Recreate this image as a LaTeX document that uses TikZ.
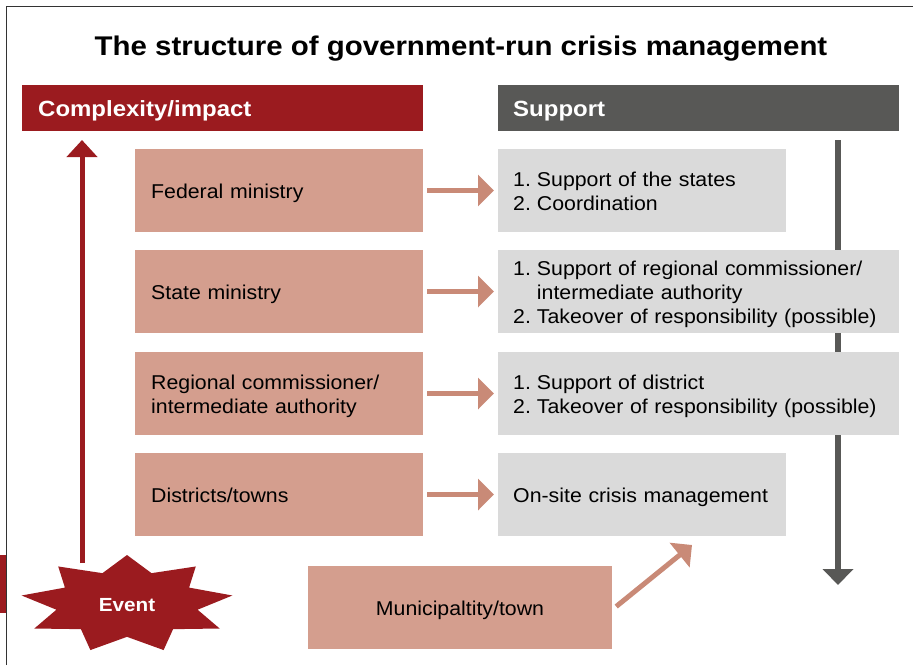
\documentclass[tikz,border=0pt]{standalone}
\usepackage{fontspec}
\setmainfont[FakeStretch=1.065]{Liberation Sans}
\newfontfamily\hfont[FakeStretch=1.09]{Liberation Sans}
\usetikzlibrary{arrows.meta}
\definecolor{cred}{HTML}{9B1B1F}
\definecolor{cpink}{HTML}{D49E8E}
\definecolor{cpinkarr}{HTML}{C98A77}
\definecolor{cgreyhead}{HTML}{585856}
\definecolor{cgreybox}{HTML}{DADADA}
\definecolor{cframe}{HTML}{333333}
\newcommand{\bodyfnt}{\fontsize{20}{24}\selectfont}
\newcommand{\itm}[1]{#1.\kern6pt}
\begin{document}
\begin{tikzpicture}[x=1pt,y=-1pt,
  boxtext/.style={text height=20.4pt, text depth=4pt},
  twoline/.style={text depth=28pt},
  threeline/.style={text depth=52pt},
  pinkbox/.style={fill=cpink, minimum height=83pt, text width=256pt, inner xsep=16pt, inner ysep=0pt, align=left, font=\bodyfnt, anchor=west, boxtext},
  greybox/.style={fill=cgreybox, minimum height=83pt, inner xsep=15pt, inner ysep=0pt, align=left, font=\bodyfnt, anchor=west, boxtext},
  header/.style={minimum height=46pt, inner xsep=16pt, inner ysep=0pt, align=left, font=\hfont\fontsize{22}{24}\selectfont\bfseries, text=white, anchor=west, text height=22pt, text depth=4.8pt},
  pinkarrow/.style={draw=cpinkarr, line width=5pt, -{Triangle[width=31pt,length=16pt]}},
]
\useasboundingbox (0,0) rectangle (913,665);
% frame
\fill[cred] (0,555) rectangle (6,613);
\draw[cframe, line width=1pt] (6.5,665) -- (6.5,6.5) -- (913,6.5);
% title
\node[font=\hfont\fontsize{27}{30}\selectfont\bfseries] (title) at (461,49) {The structure of government-run crisis management};
% headers
\node[header, fill=cred, text width=369pt] (hleft) at (22,108) {Complexity/impact};
\node[header, fill=cgreyhead, text width=371pt, inner xsep=15pt] (hright) at (498,108) {Support};
% grey down arrow (behind boxes)
\coordinate (gtop) at (838,140);
\coordinate (gbot) at (838,585);
\draw[cgreyhead, line width=5.5pt, -{Triangle[width=30pt,length=16pt]}] (gtop) -- (gbot);
% pink boxes
\node[pinkbox] (fed) at (135,190.5) {Federal ministry};
\node[pinkbox] (sta) at (135,291.5) {State ministry};
\node[pinkbox, twoline] (reg) at (135,393.5) {Regional commissioner/\\intermediate authority};
\node[pinkbox] (dis) at (135,494.5) {Districts/towns};
% grey boxes
\node[greybox, twoline, text width=258pt] (fedS) at (498,190.5) {\itm{1}Support of the states\\\itm{2}Coordination};
\node[greybox, threeline, text width=371pt] (staS) at (498,291.5) {\itm{1}Support of regional commissioner/\\\phantom{\itm{1}}intermediate authority\\\itm{2}Takeover of responsibility (possible)};
\node[greybox, twoline, text width=371pt] (regS) at (498,393.5) {\itm{1}Support of district\\\itm{2}Takeover of responsibility (possible)};
\node[greybox, text width=258pt] (disS) at (498,494.5) {On-site crisis management};
% horizontal arrows
\foreach \a/\b in {fed/fedS, sta/staS, reg/regS, dis/disS}
  \draw[pinkarrow, shorten <=4pt, shorten >=4pt] (\a.east) -- (\b.west);
% municipality
\node[fill=cpink, minimum width=304pt, minimum height=83pt, inner sep=0pt, font=\bodyfnt, boxtext] (muni) at (460,607.5) {Municipaltity/town};
\coordinate (dtip) at (692,545);
\draw[pinkarrow] ([xshift=4pt,yshift=1pt]muni.east) -- (dtip);
% star
\fill[cred] (127,555) \foreach \i in {1,...,17} { -- ({127+107*(1-0.33*mod(\i,2))*cos(-90+20*\i)},{604+49*(1-0.33*mod(\i,2))*sin(-90+20*\i)}) } -- cycle;
\node[font=\hfont\fontsize{19}{24}\selectfont\bfseries, text=white] (event) at (127,605) {Event};
% red up arrow
\coordinate (rbot) at (82,563);
\coordinate (rtop) at (82,140);
\draw[cred, line width=5pt, -{Triangle[width=30pt,length=17pt]}] (rbot) -- (rtop);
\end{tikzpicture}
\end{document}
